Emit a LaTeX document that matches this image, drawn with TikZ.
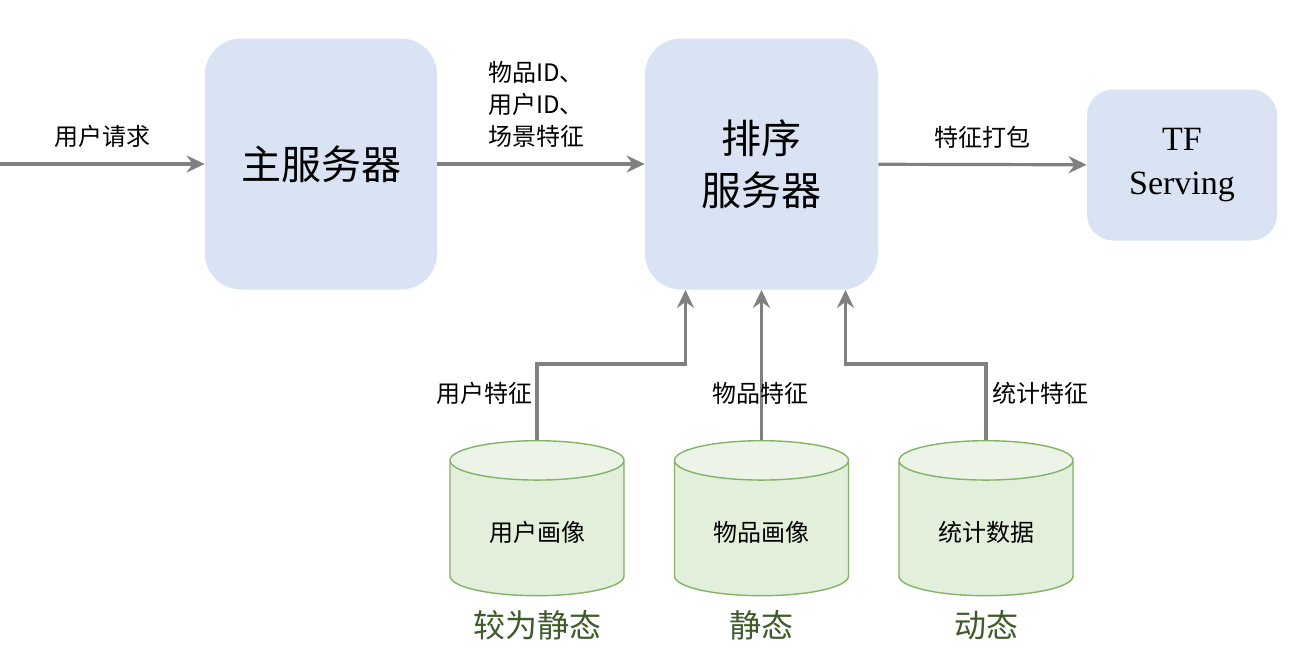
\documentclass[tikz,border=0pt]{standalone}
\usepackage{fontspec}
\setmainfont{Liberation Serif}
\newfontfamily\cjk{Noto Sans CJK SC}
\usetikzlibrary{shapes.geometric,arrows.meta}

\definecolor{boxblue}{HTML}{DAE3F3}
\definecolor{cylgreen}{HTML}{E2EFDA}
\definecolor{cyltop}{HTML}{EBF4E6}
\definecolor{cyledge}{HTML}{82B366}
\definecolor{flowgray}{HTML}{808080}
\definecolor{captiongreen}{HTML}{3E5C2B}

\tikzset{
  server/.style={fill=boxblue, rounded corners=18pt, align=center,
    font=\cjk\fontsize{20}{26}\selectfont},
  store/.style={cylinder, shape border rotate=90, aspect=0.36, draw=cyledge,
    line width=0.7pt, cylinder uses custom fill, cylinder body fill=cylgreen,
    cylinder end fill=cyltop, minimum width=87pt, minimum height=77.5pt,
    anchor=north, font=\cjk\fontsize{12}{14}\selectfont},
  flow/.style={draw=flowgray, line width=1.6pt,
    -{Stealth[length=9pt,width=8.5pt,inset=3pt]}},
  lab/.style={font=\cjk\fontsize{12}{16}\selectfont},
  caption/.style={text=captiongreen, font=\cjk\fontsize{16}{18}\selectfont}
}

\begin{document}
\begin{tikzpicture}[x=0.5pt,y=-0.5pt]
            \useasboundingbox (0,0) rectangle (1296,654);

            \coordinate (req) at (0,164);
            \node[server, minimum width=116pt, minimum height=125.5pt] (main) at (321,164) {主服务器};
            \node[server, minimum width=116.5pt, minimum height=125.5pt] (rank) at (761.5,164) {排序\\服务器};
            \node[server, rounded corners=13pt, minimum width=95pt, minimum height=75.5pt,
                  font=\fontsize{17}{22}\selectfont] (tf) at (1182,165) {TF\\Serving};

            \path (req) edge[flow] node[lab, above=4pt] {用户请求} (main);
            \path (main) edge[flow] (rank);
            \node[lab, anchor=west, align=left] (ids) at (481,104)
                {{\cjk 物品}ID{\cjk 、}\\{\cjk 用户}ID{\cjk 、}\\场景特征};
            \path (rank) edge[flow] node[lab, above=4pt] {特征打包} (tf);

            \node[store] (user) at (537,440) {用户画像};
            \node[store] (item) at (761.5,440) {物品画像};
            \node[store] (stat) at (986,440) {统计数据};

            \draw [flow] (user.north) -- ++(0,-76) -| ([xshift=-38pt]rank.south);
            \draw [flow] (item.north) -- (rank.south);
            \draw [flow] (stat.north) -- ++(0,-76) -| ([xshift=42pt]rank.south);

            \node[lab] (userf) at (484,393) {用户特征};
            \node[lab] (itemf) at (760,393) {物品特征};
            \node[lab] (statf) at (1040,393) {统计特征};

            \node[caption] (userc) at (537,625) {较为静态};
            \node[caption] (itemc) at (761.5,625) {静态};
            \node[caption] (statc) at (986,625) {动态};

        \end{tikzpicture}
\end{document}
